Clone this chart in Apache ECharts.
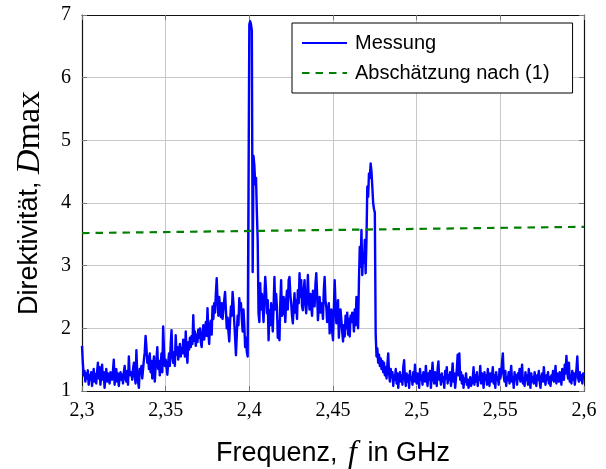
<!DOCTYPE html>
<html>
<head>
<meta charset="utf-8">
<script src="https://cdn.jsdelivr.net/npm/echarts@6/dist/echarts.min.js"></script>
<style>
  html, body { margin: 0; padding: 0; background: #fff; }
  #chart { width: 606px; height: 469px; }
</style>
</head>
<body>
<div id="chart"></div>
<script>
// Measured directivity, sampled every 0.5 MHz from 2.300 GHz to 2.600 GHz
const freqStart = 2.3;
const freqStep = 0.0005;
const measured = [
  // 2.300 - 2.335
  1.72, 1.45, 1.25, 1.32, 1.15, 1.28, 1.20, 1.33, 1.10, 1.25,
  1.18, 1.30, 1.08, 1.22, 1.35, 1.15, 1.27, 1.12, 1.30, 1.45,
  1.20, 1.38, 1.10, 1.25, 1.42, 1.18, 1.30, 1.05, 1.22, 1.35,
  1.15, 1.28, 1.20, 1.12, 1.30, 1.22, 1.18, 1.32, 1.50, 1.10,
  1.25, 1.35, 1.15, 1.28, 1.08, 1.22, 1.30, 1.18, 1.26, 1.12,
  1.30, 1.40, 1.20, 1.15, 1.32, 1.10, 1.55, 1.25, 1.22, 1.30,
  1.18, 1.35, 1.45, 1.25, 1.12, 1.65, 1.30, 1.15, 1.05, 1.35,
  // 2.335 - 2.350
  1.28, 1.40, 1.20, 1.35, 1.50, 1.62, 1.88, 1.70, 1.45, 1.55,
  1.35, 1.60, 1.30, 1.48, 1.20, 1.42, 1.55, 1.15, 1.38, 1.50,
  1.70, 1.35, 1.48, 1.25, 1.42, 1.60, 1.30, 2.03, 1.65, 1.40,
  // 2.350 - 2.400
  1.50, 1.38, 1.26, 1.45, 1.60, 1.40, 1.75, 1.97, 1.55, 1.45,
  1.62, 1.40, 1.89, 1.58, 1.70, 1.50, 1.62, 1.75, 1.55, 1.68,
  1.60, 1.82, 1.70, 1.55, 1.95, 1.62, 1.45, 1.78, 1.66, 1.85,
  1.70, 1.88, 1.75, 2.21, 1.80, 1.95, 1.72, 1.90, 1.78, 1.98,
  1.85, 2.00, 1.78, 1.70, 1.92, 2.05, 1.82, 1.95, 2.10, 1.88,
  2.32, 1.95, 1.75, 2.05, 2.12, 1.90, 2.35, 2.15, 2.40, 2.25,
  2.55, 2.80, 2.45, 2.20, 2.50, 2.35, 2.18, 2.40, 2.15, 2.30,
  2.45, 2.58, 2.30, 2.00, 2.17, 1.95, 1.79, 2.10, 2.35, 2.20,
  2.58, 2.40, 2.10, 1.85, 1.57, 1.90, 2.20, 2.05, 2.48, 2.30,
  2.40, 2.15, 1.95, 2.30, 2.05, 1.70, 1.85, 1.62, 1.55, 1.58,
  // 2.400 - 2.475
  6.85, 6.90, 6.85, 6.75, 2.90, 4.75, 4.60, 4.30, 4.40, 3.85,
  3.40, 2.24, 2.10, 2.72, 2.30, 2.55, 2.34, 2.10, 2.50, 2.82,
  2.60, 2.24, 2.45, 1.81, 2.29, 2.05, 2.40, 2.25, 1.95, 2.35,
  2.82, 2.30, 2.55, 2.34, 1.85, 2.10, 1.81, 2.40, 2.77, 2.20,
  2.24, 2.50, 2.35, 2.10, 2.45, 2.60, 2.30, 2.77, 2.82, 2.55,
  2.40, 2.20, 2.08, 2.35, 2.56, 2.25, 2.45, 2.15, 2.61, 2.40,
  2.88, 2.50, 2.77, 2.35, 2.29, 2.60, 2.77, 2.40, 2.24, 2.50,
  2.85, 2.45, 2.30, 2.55, 2.34, 2.20, 2.60, 2.45, 2.35, 2.70,
  2.88, 2.55, 2.13, 2.35, 2.50, 2.25, 2.40, 2.34, 2.15, 2.60,
  2.82, 2.45, 2.34, 2.10, 2.20, 2.40, 1.92, 2.25, 2.30, 1.95,
  1.81, 2.30, 2.77, 2.40, 2.08, 2.20, 2.45, 1.85, 2.10, 2.30,
  2.13, 1.95, 1.79, 2.05, 1.87, 2.20, 2.00, 2.25, 1.90, 2.15,
  1.87, 2.20, 2.10, 2.25, 2.20, 1.95, 2.30, 2.05, 2.50, 2.20,
  2.00, 2.75, 3.30, 2.98, 3.57, 2.85, 3.20, 3.05, 3.41, 2.88,
  3.40, 4.26, 4.10, 4.47, 4.40, 4.63, 4.50, 4.26, 4.00, 3.90,
  // 2.475 - 2.600
  3.85, 1.92, 1.55, 1.68, 1.45, 1.58, 1.40, 1.52, 1.35, 1.48,
  1.30, 1.45, 1.25, 1.38, 1.20, 1.42, 1.60, 1.28, 1.15, 1.35,
  1.22, 1.30, 1.08, 1.25, 1.18, 1.35, 1.12, 1.28, 1.05, 1.22,
  1.30, 1.15, 1.25, 1.10, 1.38, 1.49, 1.20, 1.08, 1.28, 1.15,
  1.25, 1.05, 1.32, 1.18, 1.22, 1.10, 1.30, 1.15, 1.42, 1.20,
  1.12, 1.28, 1.20, 1.05, 1.35, 1.18, 1.25, 1.10, 1.30, 1.22,
  1.15, 1.40, 1.20, 1.08, 1.28, 1.18, 1.32, 1.05, 1.25, 1.45,
  1.20, 1.12, 1.30, 1.22, 1.08, 1.35, 1.47, 1.18, 1.25, 1.10,
  1.28, 1.15, 1.22, 1.05, 1.32, 1.20, 1.38, 1.12, 1.25, 1.18,
  1.30, 1.08, 1.22, 1.44, 1.15, 1.28, 1.05, 1.20, 1.35, 1.58,
  1.25, 1.60, 1.18, 1.30, 1.12, 1.25, 1.05, 1.20, 1.15, 1.28,
  1.10, 1.18, 1.05, 1.15, 1.22, 1.08, 1.12, 1.20, 1.38, 1.10,
  1.25, 1.15, 1.30, 1.08, 1.22, 1.18, 1.40, 1.12, 1.28, 1.20,
  1.05, 1.30, 1.18, 1.25, 1.10, 1.35, 1.20, 1.08, 1.28, 1.15,
  1.22, 1.38, 1.12, 1.25, 1.05, 1.30, 1.18, 1.22, 1.10, 1.35,
  1.20, 1.28, 1.45, 1.60, 1.25, 1.15, 1.32, 1.08, 1.22, 1.18,
  1.30, 1.12, 1.25, 1.40, 1.15, 1.22, 1.05, 1.30, 1.18, 1.25,
  1.10, 1.28, 1.20, 1.35, 1.15, 1.25, 1.42, 1.12, 1.20, 1.08,
  1.30, 1.18, 1.25, 1.10, 1.35, 1.20, 1.05, 1.28, 1.15, 1.22,
  1.12, 1.30, 1.20, 1.08, 1.25, 1.18, 1.32, 1.15, 1.05, 1.22,
  1.28, 1.15, 1.38, 1.20, 1.10, 1.25, 1.18, 1.30, 1.12, 1.22,
  1.08, 1.25, 1.18, 1.32, 1.15, 1.22, 1.40, 1.12, 1.28, 1.20,
  1.15, 1.30, 1.22, 1.10, 1.35, 1.25, 1.18, 1.42, 1.28, 1.56,
  1.30, 1.20, 1.45, 1.15, 1.25, 1.12, 1.32, 1.18, 1.28, 1.10,
  1.22, 1.35, 1.55, 1.20, 1.15, 1.30, 1.18, 1.25, 1.12, 1.28,
  1.25
];

// Estimate from equation (1): straight line across the band
const estimateFreq = [2.3, 2.6];
const estimateValues = [3.52, 3.62];

// Axis ticks and their labels (German decimal comma)
const xTicks = [2.3, 2.35, 2.4, 2.45, 2.5, 2.55, 2.6];
const xTickLabels = ['2,3', '2,35', '2,4', '2,45', '2,5', '2,55', '2,6'];
const yTicks = [1, 2, 3, 4, 5, 6, 7];
const yTickLabels = ['1', '2', '3', '4', '5', '6', '7'];

const measuredData = measured.map((v, i) => [+(freqStart + i * freqStep).toFixed(4), v]);
const estimateData = estimateFreq.map((f, i) => [f, estimateValues[i]]);

function nearestLabel(ticks, labels, v) {
  let best = 0;
  for (let i = 1; i < ticks.length; i++) {
    if (Math.abs(ticks[i] - v) < Math.abs(ticks[best] - v)) best = i;
  }
  return labels[best];
}

const serif = "'Liberation Serif', 'DejaVu Serif', serif";
const sans = "'Liberation Sans', Arial, Helvetica, sans-serif";

const frameLine = { show: true, onZero: false, lineStyle: { color: '#111', width: 1.2 } };
const innerTick = { show: true, inside: true, length: 5, lineStyle: { color: '#777', width: 1 } };
const gridLine = { show: true, lineStyle: { color: '#c8c8c8', width: 1 } };

const chart = echarts.init(document.getElementById('chart'), null, { renderer: 'canvas' });

chart.setOption({
  animation: false,
  backgroundColor: '#fff',
  grid: { left: 82, right: 22, top: 15, bottom: 78, containLabel: false, outerBoundsMode: 'none' },
  legend: {
    orient: 'vertical',
    left: 292,
    top: 23,
    padding: [10, 23, 10, 9],
    itemGap: 10,
    itemWidth: 45,
    itemHeight: 20,
    backgroundColor: '#fff',
    borderColor: '#000',
    borderWidth: 1,
    borderRadius: 0,
    itemStyle: { opacity: 0 },
    textStyle: { fontFamily: sans, fontSize: 20, color: '#000', padding: [0, 0, 0, 3] },
    data: ['Messung', 'Abschätzung nach (1)']
  },
  xAxis: [
    {
      type: 'value', position: 'bottom', min: 2.3, max: 2.6, interval: 0.05,
      axisLine: frameLine, axisTick: innerTick, splitLine: gridLine,
      axisLabel: {
        margin: 10, fontFamily: serif, fontSize: 20, color: '#000',
        formatter: v => nearestLabel(xTicks, xTickLabels, v)
      },
      name: '{t|Frequenz, }{m|f}{t| in GHz}',
      nameLocation: 'middle',
      nameGap: 47,
      nameTextStyle: {
        rich: {
          t: { fontFamily: sans, fontSize: 27, color: '#000' },
          m: { fontFamily: serif, fontStyle: 'italic', fontSize: 32, color: '#000', padding: [0, 3, 0, 3] }
        }
      }
    },
    {
      type: 'value', position: 'top', min: 2.3, max: 2.6, interval: 0.05,
      axisLine: frameLine, axisTick: innerTick, splitLine: { show: false },
      axisLabel: { show: false }
    }
  ],
  yAxis: [
    {
      type: 'value', position: 'left', min: 1, max: 7, interval: 1,
      axisLine: frameLine, axisTick: innerTick, splitLine: gridLine,
      axisLabel: {
        margin: 11, fontFamily: serif, fontSize: 20, color: '#000',
        formatter: v => nearestLabel(yTicks, yTickLabels, v)
      },
      name: '{t|Direktivität, }{m|D}{r|max}',
      nameLocation: 'middle',
      nameGap: 35,
      nameRotate: 90,
      nameTextStyle: {
        rich: {
          t: { fontFamily: sans, fontSize: 27, color: '#000' },
          m: { fontFamily: serif, fontStyle: 'italic', fontSize: 34, color: '#000' },
          r: { fontFamily: serif, fontSize: 34, color: '#000' }
        }
      }
    },
    {
      type: 'value', position: 'right', min: 1, max: 7, interval: 1,
      axisLine: frameLine, axisTick: innerTick, splitLine: { show: false },
      axisLabel: { show: false }
    }
  ],
  series: [
    {
      name: 'Messung',
      type: 'line',
      xAxisIndex: 0, yAxisIndex: 0,
      data: measuredData,
      showSymbol: false,
      symbol: 'none',
      sampling: null,
      lineStyle: { color: '#0000ff', width: 2.4, join: 'round' },
      itemStyle: { color: '#0000ff' },
      z: 3
    },
    {
      name: 'Abschätzung nach (1)',
      type: 'line',
      xAxisIndex: 0, yAxisIndex: 0,
      data: estimateData,
      showSymbol: false,
      symbol: 'none',
      lineStyle: { color: '#008000', width: 2.2, type: [7.5, 6] },
      itemStyle: { color: '#008000' },
      z: 4
    }
  ]
});
</script>
</body>
</html>
